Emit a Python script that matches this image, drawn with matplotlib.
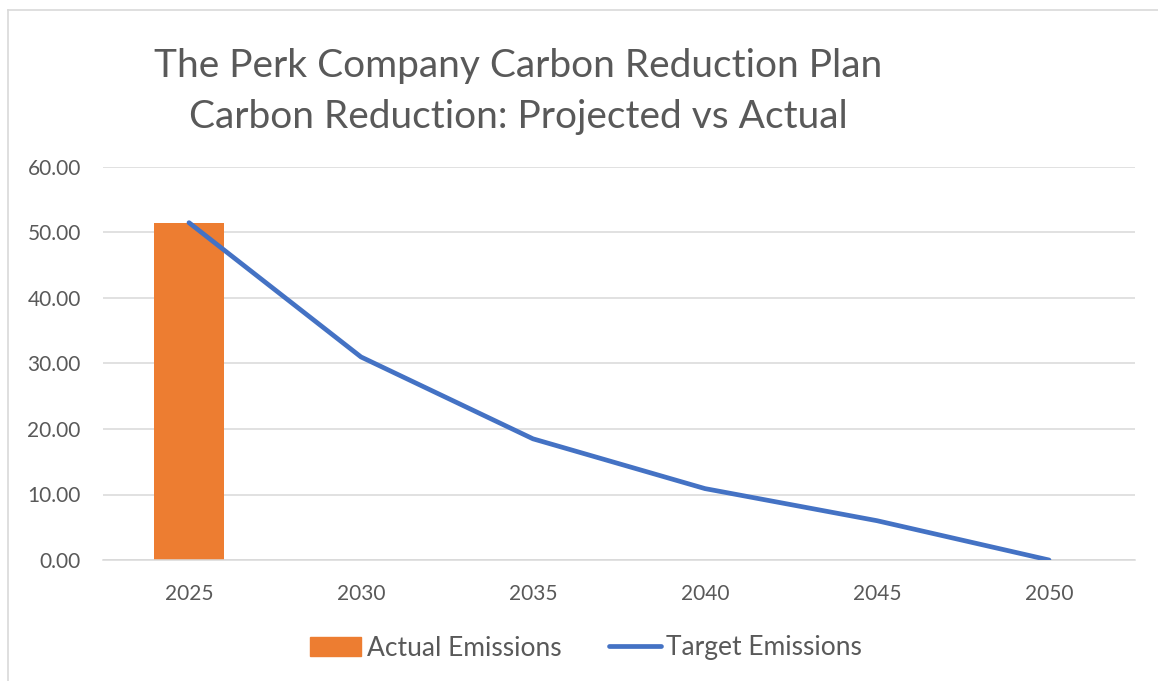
import matplotlib.pyplot as plt
from matplotlib.lines import Line2D
import numpy as np

years = ['2025', '2030', '2035', '2040', '2045', '2050']
actual = [51.5, None, None, None, None, None]
target = [51.5, 31.0, 18.5, 10.9, 6.0, 0.0]
yticks = [0, 10, 20, 30, 40, 50, 60]

plt.rcParams['font.family'] = ['Lato', 'DejaVu Sans']
txt = '#595959'
grid = '#d9d9d9'

W, H = 1158, 681
fig = plt.figure(figsize=(W / 100, H / 100), dpi=100)
ax = fig.add_axes([103 / W, 1 - 560 / H, (1135 - 103) / W, (560 - 167) / H])

x = np.arange(len(years))
bar_x = [i for i, v in zip(x, actual) if v is not None]
bar_v = [v for v in actual if v is not None]
ax.bar(bar_x, bar_v, width=0.41, color='#ED7D31', zorder=2, label='Actual Emissions')
ax.plot(x, target, color='#4472C4', lw=3.4, solid_capstyle='round', zorder=3,
        label='Target Emissions')

ax.set_xlim(-0.5, len(years) - 0.5)
ax.set_ylim(0, 60)
ax.set_yticks(yticks)
ax.set_yticklabels(['%.2f' % v for v in yticks])
ax.set_xticks(x)
ax.set_xticklabels(years)
ax.tick_params(length=0, labelsize=15, colors=txt)
ax.tick_params(axis='y', pad=16)
ax.tick_params(axis='x', pad=17)
ax.grid(axis='y', color=grid, lw=1.1, zorder=0)
for s in ['top', 'right', 'left']:
    ax.spines[s].set_visible(False)
ax.spines['bottom'].set_color(grid)
ax.spines['bottom'].set_linewidth(1.1)

fig.text(518 / W, 1 - 66 / H, 'The Perk Company Carbon Reduction Plan',
         ha='center', va='center', fontsize=28, color=txt)
fig.text(518 / W, 1 - 117 / H, 'Carbon Reduction: Projected vs Actual',
         ha='center', va='center', fontsize=28, color=txt)

handles = [plt.Rectangle((0, 0), 1, 1, color='#ED7D31'),
           Line2D([], [], color='#4472C4', lw=3.4, solid_capstyle='round')]
fig.legend(handles, ['Actual Emissions', 'Target Emissions'], loc='center',
           bbox_to_anchor=(586 / W, 1 - 648 / H), ncol=2, frameon=False,
           fontsize=19, labelcolor=txt, handlelength=1.95, handletextpad=0.22,
           columnspacing=1.8)

# chart border
fig.add_artist(Line2D([8 / W, 8 / W], [0, 1 - 10 / H], color=grid, lw=1.2))
fig.add_artist(Line2D([8 / W, 1], [1 - 10 / H, 1 - 10 / H], color=grid, lw=1.2))

fig.savefig('out.png', dpi=100, facecolor='white')
